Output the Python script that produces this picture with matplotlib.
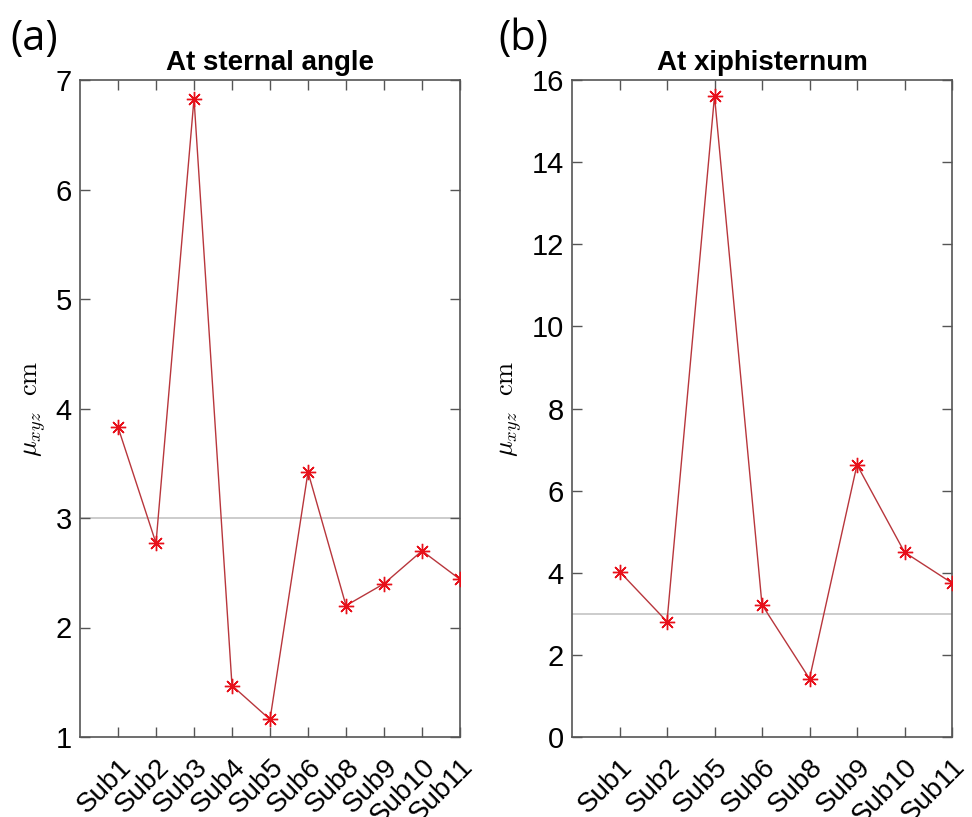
import matplotlib
matplotlib.use("Agg")
import matplotlib.pyplot as plt
from matplotlib.transforms import ScaledTranslation

# Data
subs_a = ["Sub1", "Sub2", "Sub3", "Sub4", "Sub5", "Sub6", "Sub8", "Sub9", "Sub10", "Sub11"]
vals_a = [3.83, 2.77, 6.83, 1.47, 1.16, 3.42, 2.20, 2.40, 2.70, 2.44]
subs_b = ["Sub1", "Sub2", "Sub5", "Sub6", "Sub8", "Sub9", "Sub10", "Sub11"]
vals_b = [4.03, 2.81, 15.61, 3.22, 1.42, 6.63, 4.50, 3.75]
ref_level = 3
titles = ["At sternal angle", "At xiphisternum"]
panel_labels = ["(a)", "(b)"]
yticks_a = [1, 2, 3, 4, 5, 6, 7]
yticks_b = [0, 2, 4, 6, 8, 10, 12, 14, 16]

plt.rcParams['font.family'] = ['Liberation Sans', 'DejaVu Sans']
plt.rcParams['mathtext.fontset'] = 'cm'

fig = plt.figure(figsize=(9.72, 8.17), dpi=100)
axa = fig.add_axes([80/972, 80/817, 380/972, 657/817])
axb = fig.add_axes([572/972, 80/817, 380/972, 657/817])

spine_col = '#555555'
asterisk = (8, 2, 0)
for ax, subs, vals, yt, title, pl, lx in [
    (axa, subs_a, vals_a, yticks_a, titles[0], panel_labels[0], 10/972),
    (axb, subs_b, vals_b, yticks_b, titles[1], panel_labels[1], 498/972)]:
    x = list(range(1, len(subs) + 1))
    ax.axhline(ref_level, color='#c4c4c4', lw=1.2, zorder=1)
    ax.plot(x, vals, '-', color='#b8363c', lw=1.0, zorder=2)
    ax.plot(x, vals, linestyle='none', marker=asterisk, color='#e8101a',
            ms=11, mew=1.0, zorder=3)
    ax.set_xlim(0, len(subs))
    ax.set_ylim(yt[0], yt[-1])
    ax.set_yticks(yt)
    ax.set_xticks(x)
    ax.set_xticklabels(subs, rotation=45, ha='right', va='top',
                       rotation_mode='anchor', fontsize=20)
    off = ScaledTranslation(14/100, -6/100, fig.dpi_scale_trans)
    for lab in ax.get_xticklabels():
        lab.set_transform(lab.get_transform() + off)
    ax.tick_params(axis='y', labelsize=21, pad=6)
    ax.tick_params(direction='in', top=True, right=True, length=7,
                   color=spine_col, width=1)
    ax.tick_params(axis='x', pad=12)
    for s in ax.spines.values():
        s.set_color(spine_col)
        s.set_linewidth(1.2)
    ax.set_title(title, fontsize=20, fontweight='bold', pad=7)
    ax.set_ylabel(r'$\mu_{xyz}\ \ \mathrm{cm}$', fontsize=19, labelpad=5)
    fig.text(lx, 1 - 39/817, pl, fontsize=30, family=['Open Sans', 'DejaVu Sans'],
             va='center', ha='left')

fig.savefig("out.png", dpi=100)
